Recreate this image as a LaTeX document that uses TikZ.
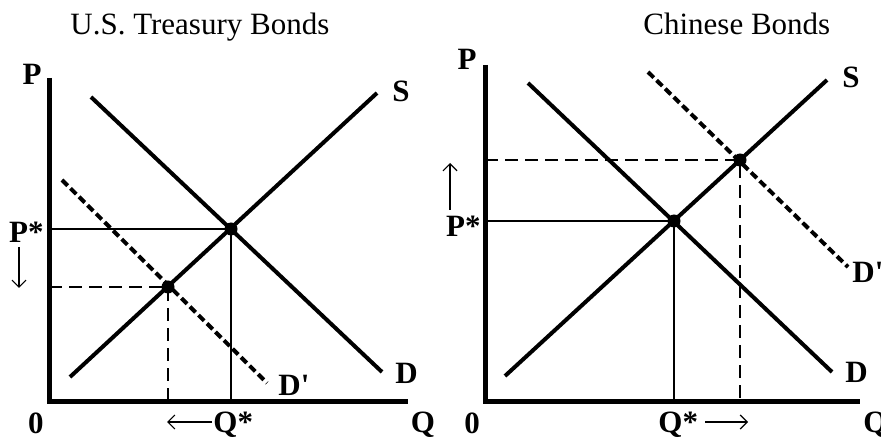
\documentclass[tikz,border=0pt]{standalone}
\usepackage{fontspec}
\setmainfont{Liberation Serif}
\usetikzlibrary{arrows.meta}
\begin{document}
\begin{tikzpicture}[x=0.5pt,y=-0.5pt,
  axisline/.style={line width=2.5pt, line join=miter},
  curveline/.style={line width=2pt},
  dcurveline/.style={line width=2pt, dash pattern=on 4pt off 2pt},
  guide/.style={line width=0.9pt},
  dguide/.style={line width=0.9pt, dash pattern=on 6.5pt off 3.5pt},
  mover/.style={line width=0.6pt, -{Straight Barb[length=3.5pt,width=7pt]}},
  lab/.style={inner sep=0pt, font=\fontsize{15.5}{18}\selectfont\bfseries},
  ttl/.style={inner sep=0pt, font=\fontsize{15.5}{18}\selectfont},
  eqdot/.style={circle, fill, inner sep=0pt, minimum size=6.5pt}]
\useasboundingbox (0,0) rectangle (881,442);

% ---------------- Left: U.S. Treasury Bonds ----------------
\node[ttl, anchor=base west] (t1) at (70,35) {U.S. Treasury Bonds};
\coordinate (Ltop) at (49,78);
\coordinate (Lo) at (49,401);
\coordinate (Lr) at (408,401);
\draw[axisline] (Ltop) -- (Lo) -- (Lr);

\coordinate (LS1) at (70,377);  \coordinate (LS2) at (377,93);
\coordinate (LD1) at (91,97);   \coordinate (LD2) at (382,372);
\coordinate (LDp1) at (62,180); \coordinate (LDp2) at (267,383);
\draw[curveline] (LS1) -- (LS2);
\draw[curveline] (LD1) -- (LD2);
\draw[dcurveline] (LDp1) -- (LDp2);

\node[eqdot] (LE) at (231,229) {};
\node[eqdot] (LEp) at (168,287) {};
\coordinate (LEy) at (49,229);  \coordinate (LEx) at (231,401);
\coordinate (LEpy) at (49,287); \coordinate (LEpx) at (168,401);
\draw[guide] (LEy) -- (LE.center) -- (LEx);
\draw[dguide] (LEpy) -- (LEp.center) -- (LEpx);

\node[lab, anchor=base] (LP) at (32,85) {P};
\node[lab, anchor=base east] (LPs) at (44,243) {P*};
\node[lab, anchor=base] (L0) at (36,433) {0};
\node[lab, anchor=base] (LQ) at (423,432) {Q};
\node[lab, anchor=base west] (LQs) at (213,432) {Q*};
\node[lab, anchor=base west] (LSl) at (392,102) {S};
\node[lab, anchor=base west] (LDl) at (395,383) {D};
\node[lab, anchor=base west] (LDpl) at (278,395) {D\textquotesingle};

\coordinate (LarrA) at (19,247); \coordinate (LarrB) at (19,288);
\draw[mover] (LarrA) -- (LarrB);
\coordinate (LqarrA) at (212,422); \coordinate (LqarrB) at (167,422);
\draw[mover] (LqarrA) -- (LqarrB);

% ---------------- Right: Chinese Bonds ----------------
\node[ttl, anchor=base west] (t2) at (643,35) {Chinese Bonds};
\coordinate (Rtop) at (485,65);
\coordinate (Ro) at (485,401);
\coordinate (Rr) at (860,401);
\draw[axisline] (Rtop) -- (Ro) -- (Rr);

\coordinate (RS1) at (505,376);  \coordinate (RS2) at (827,80);
\coordinate (RD1) at (528,83);   \coordinate (RD2) at (832,372);
\coordinate (RDp1) at (648,72);  \coordinate (RDp2) at (848,267);
\draw[curveline] (RS1) -- (RS2);
\draw[curveline] (RD1) -- (RD2);
\draw[dcurveline] (RDp1) -- (RDp2);

\node[eqdot] (RE) at (674,221) {};
\node[eqdot] (REp) at (740,160) {};
\coordinate (REy) at (485,221);  \coordinate (REx) at (674,401);
\coordinate (REpy) at (485,160); \coordinate (REpx) at (740,401);
\draw[guide] (REy) -- (RE.center) -- (REx);
\draw[dguide] (REpy) -- (REp.center) -- (REpx);

\node[lab, anchor=base] (RP) at (467,70) {P};
\node[lab, anchor=base east] (RPs) at (481,237) {P*};
\node[lab, anchor=base] (R0) at (472,433) {0};
\node[lab, anchor=base west] (RQ) at (863,432) {Q};
\node[lab, anchor=base west] (RQs) at (658,432) {Q*};
\node[lab, anchor=base west] (RSl) at (842,88) {S};
\node[lab, anchor=base west] (RDl) at (845,382) {D};
\node[lab, anchor=base west] (RDpl) at (852,283) {D\textquotesingle};

\coordinate (RarrA) at (450,210); \coordinate (RarrB) at (450,163);
\draw[mover] (RarrA) -- (RarrB);
\coordinate (RqarrA) at (705,422); \coordinate (RqarrB) at (748,422);
\draw[mover] (RqarrA) -- (RqarrB);
\end{tikzpicture}
\end{document}
